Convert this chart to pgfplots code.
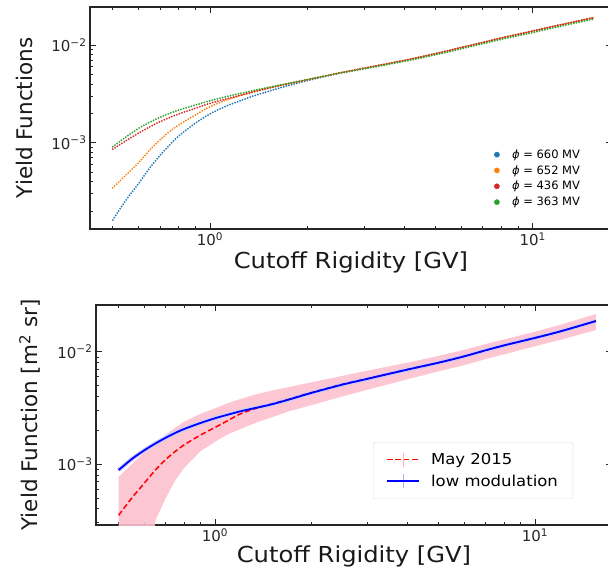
\documentclass[border=0pt]{standalone}
\usepackage{pgfplots}
\pgfplotsset{compat=1.18}
\usepackage{pgfplotstable}
\usepgfplotslibrary{fillbetween}
\usepackage{fontspec}
\setmainfont{DejaVu Sans}
\definecolor{tabblue}{HTML}{1F77B4}
\definecolor{taborange}{HTML}{FF7F0E}
\definecolor{tabred}{HTML}{D62728}
\definecolor{tabgreen}{HTML}{2CA02C}
\definecolor{bandpink}{RGB}{252,192,205}
\definecolor{pyred}{RGB}{255,0,0}
\definecolor{pyblue}{RGB}{0,0,255}

\pgfplotstableread{
x     b        o        r        g
0.5   1.62e-4  3.45e-4  8.6e-4   9.1e-4
0.55  2.6e-4   4.7e-4   1.05e-3  1.15e-3
0.6   3.8e-4   6.2e-4   1.25e-3  1.40e-3
0.65  5.5e-4   8.4e-4   1.45e-3  1.62e-3
0.7   7.4e-4   1.07e-3  1.64e-3  1.82e-3
0.75  9.5e-4   1.30e-3  1.81e-3  2.00e-3
0.8   1.17e-3  1.52e-3  1.97e-3  2.16e-3
0.9   1.58e-3  1.92e-3  2.25e-3  2.43e-3
1.0   1.97e-3  2.34e-3  2.53e-3  2.69e-3
1.1   2.30e-3  2.66e-3  2.76e-3  2.92e-3
1.2   2.58e-3  2.94e-3  2.97e-3  3.12e-3
1.35  2.98e-3  3.30e-3  3.28e-3  3.40e-3
1.5   3.32e-3  3.60e-3  3.58e-3  3.66e-3
1.7   3.75e-3  3.95e-3  3.93e-3  3.98e-3
2.0   4.32e-3  4.42e-3  4.40e-3  4.43e-3
2.5   5.13e-3  5.15e-3  5.15e-3  5.12e-3
3     5.79e-3  5.79e-3  5.78e-3  5.70e-3
4     6.96e-3  6.96e-3  6.95e-3  6.80e-3
5     8.16e-3  8.16e-3  8.15e-3  7.95e-3
6     9.41e-3  9.41e-3  9.40e-3  9.15e-3
7     1.061e-2 1.061e-2 1.060e-2 1.030e-2
8     1.181e-2 1.181e-2 1.180e-2 1.145e-2
10    1.391e-2 1.391e-2 1.390e-2 1.340e-2
12    1.591e-2 1.591e-2 1.590e-2 1.540e-2
15.5  1.911e-2 1.911e-2 1.910e-2 1.850e-2
}\toptable

\pgfplotstableread{
x     lm       may      lo       up
0.5   8.85e-4  3.5e-4   1e-5     7.7e-4
0.55  1.11e-3  5.0e-4   1e-5     1.0e-3
0.6   1.32e-3  6.7e-4   1e-5     1.27e-3
0.65  1.52e-3  8.8e-4   3.1e-4   1.55e-3
0.7   1.71e-3  1.09e-3  4.9e-4   1.82e-3
0.75  1.89e-3  1.29e-3  7.1e-4   2.10e-3
0.8   2.05e-3  1.48e-3  9.2e-4   2.38e-3
0.9   2.32e-3  1.81e-3  1.30e-3  2.80e-3
1.0   2.56e-3  2.12e-3  1.58e-3  3.13e-3
1.1   2.76e-3  2.45e-3  1.85e-3  3.50e-3
1.2   2.95e-3  2.80e-3  2.05e-3  3.80e-3
1.35  3.18e-3  3.15e-3  2.35e-3  4.20e-3
1.5   3.40e-3  3.42e-3  2.60e-3  4.50e-3
1.7   3.75e-3  3.78e-3  2.95e-3  4.85e-3
2.0   4.30e-3  4.33e-3  3.35e-3  5.35e-3
2.5   5.10e-3  5.13e-3  4.00e-3  6.10e-3
3     5.75e-3  5.78e-3  4.60e-3  6.80e-3
4     6.95e-3  6.97e-3  5.70e-3  8.00e-3
5     8.00e-3  8.02e-3  6.70e-3  9.20e-3
6     9.10e-3  9.12e-3  7.60e-3  1.04e-2
7     1.03e-2  1.03e-2  8.60e-3  1.17e-2
8     1.14e-2  1.14e-2  9.50e-3  1.29e-2
10    1.33e-2  1.33e-2  1.12e-2  1.51e-2
12    1.52e-2  1.52e-2  1.28e-2  1.74e-2
15.5  1.88e-2  1.88e-2  1.56e-2  2.17e-2
}\bottable

\newcommand{\logtl}{\pgfmathtruncatemacro\myexp{round(\tick/ln(10))}10\textsuperscript{\ifnum\myexp<0 −\the\numexpr-\myexp\relax\else\myexp\fi}}

\begin{document}
\begin{tikzpicture}
\begin{axis}[
  xmode=log, ymode=log, scale only axis,
  axis line style={line width=1.3pt, black!85},
  every tick/.style={black!85, line width=0.8pt},
  major tick length=6pt, minor tick length=3.5pt,
  ticklabel style={font=\fontsize{15}{18}\selectfont, text=black!85},
  label style={font=\fontsize{21.5}{25}\selectfont, text=black!90},
  xticklabel={\logtl}, yticklabel={\logtl},
  at={(90pt,-7pt)}, anchor=north west,
  width=522pt, height=222pt,
  xmin=0.425, xmax=17.6, ymin=1.31e-4, ymax=0.0245,
  xlabel={\scalebox{1.1}[1]{\fontsize{22}{26}\selectfont Cutoff Rigidity [GV]}},
  ylabel={Yield Functions},
  xlabel style={at={(axis description cs:0.5,-0.15)}, anchor=center},
  ylabel style={at={(axis description cs:-0.125,0.5)}, anchor=center},
  legend style={draw=none, fill=none, at={(axis description cs:0.768,0.377)}, anchor=north west,
    font=\fontsize{11.5}{13.5}\selectfont, row sep=1.6pt},
  legend cell align=left,
]
\addplot[tabblue, line width=2pt, line cap=round, dash pattern=on 0pt off 2.7pt, smooth, forget plot] table[x=x, y=b] {\toptable};
\addplot[taborange, line width=2pt, line cap=round, dash pattern=on 0pt off 2.7pt, smooth, forget plot] table[x=x, y=o] {\toptable};
\addplot[tabred, line width=2pt, line cap=round, dash pattern=on 0pt off 2.7pt, smooth, forget plot] table[x=x, y=r] {\toptable};
\addplot[tabgreen, line width=2pt, line cap=round, dash pattern=on 0pt off 2.7pt, smooth, forget plot] table[x=x, y=g] {\toptable};
\addlegendimage{legend image code/.code={\fill[tabblue] (0pt,0pt) circle (2.6pt); \path (13pt,0pt);}}
\addlegendentry{\textit{ϕ} = 660 MV}
\addlegendimage{legend image code/.code={\fill[taborange] (0pt,0pt) circle (2.6pt); \path (13pt,0pt);}}
\addlegendentry{\textit{ϕ} = 652 MV}
\addlegendimage{legend image code/.code={\fill[tabred] (0pt,0pt) circle (2.6pt); \path (13pt,0pt);}}
\addlegendentry{\textit{ϕ} = 436 MV}
\addlegendimage{legend image code/.code={\fill[tabgreen] (0pt,0pt) circle (2.6pt); \path (13pt,0pt);}}
\addlegendentry{\textit{ϕ} = 363 MV}
\end{axis}

\begin{axis}[
  xmode=log, ymode=log, scale only axis,
  axis line style={line width=1.3pt, black!85},
  every tick/.style={black!85, line width=0.8pt},
  major tick length=6pt, minor tick length=3.5pt,
  ticklabel style={font=\fontsize{15}{18}\selectfont, text=black!85},
  label style={font=\fontsize{21.5}{25}\selectfont, text=black!90},
  xticklabel={\logtl}, yticklabel={\logtl},
  at={(96pt,-305pt)}, anchor=north west,
  width=516pt, height=220pt,
  xmin=0.425, xmax=17.4, ymin=2.87e-4, ymax=0.0261,
  xlabel={\scalebox{1.1}[1]{\fontsize{22}{26}\selectfont Cutoff Rigidity [GV]}},
  ylabel={Yield Function [m\textsuperscript{2} sr]},
  xlabel style={at={(axis description cs:0.5,-0.145)}, anchor=center},
  ylabel style={at={(axis description cs:-0.128,0.5)}, anchor=center},
  legend style={draw=black!12, fill=white, rounded corners=2pt, at={(axis description cs:0.537,0.377)}, anchor=north west,
    font=\fontsize{15}{17}\selectfont, row sep=5pt, inner xsep=13pt, inner ysep=9pt},
  legend cell align=left,
  legend image code/.code={\draw[#1] (0pt,0pt) -- (32pt,0pt); \draw[#1, solid, line width=0.6pt, draw opacity=0.3] (16pt,-7pt) -- (16pt,7pt); \path (41pt,0pt);},
]
\addplot[name path=lo, draw=none, forget plot] table[x=x, y=lo] {\bottable};
\addplot[name path=up, draw=none, forget plot] table[x=x, y=up] {\bottable};
\addplot[bandpink, fill opacity=0.9, forget plot] fill between[of=up and lo];
\addplot[blue!20, line width=4.2pt, smooth, forget plot] table[x=x, y=lm] {\bottable};
\addplot[pyred, line width=1.5pt, dash pattern=on 5.5pt off 2.8pt, smooth] table[x=x, y=may] {\bottable};
\addlegendentry{\scalebox{1.1}[1]{May 2015}}
\addplot[pyblue, line width=1.8pt, smooth] table[x=x, y=lm] {\bottable};
\addlegendentry{\scalebox{1.1}[1]{low modulation}}
\end{axis}
\pgfresetboundingbox
\useasboundingbox (0pt,0pt) rectangle (608pt,-575pt);
\end{tikzpicture}
\end{document}
